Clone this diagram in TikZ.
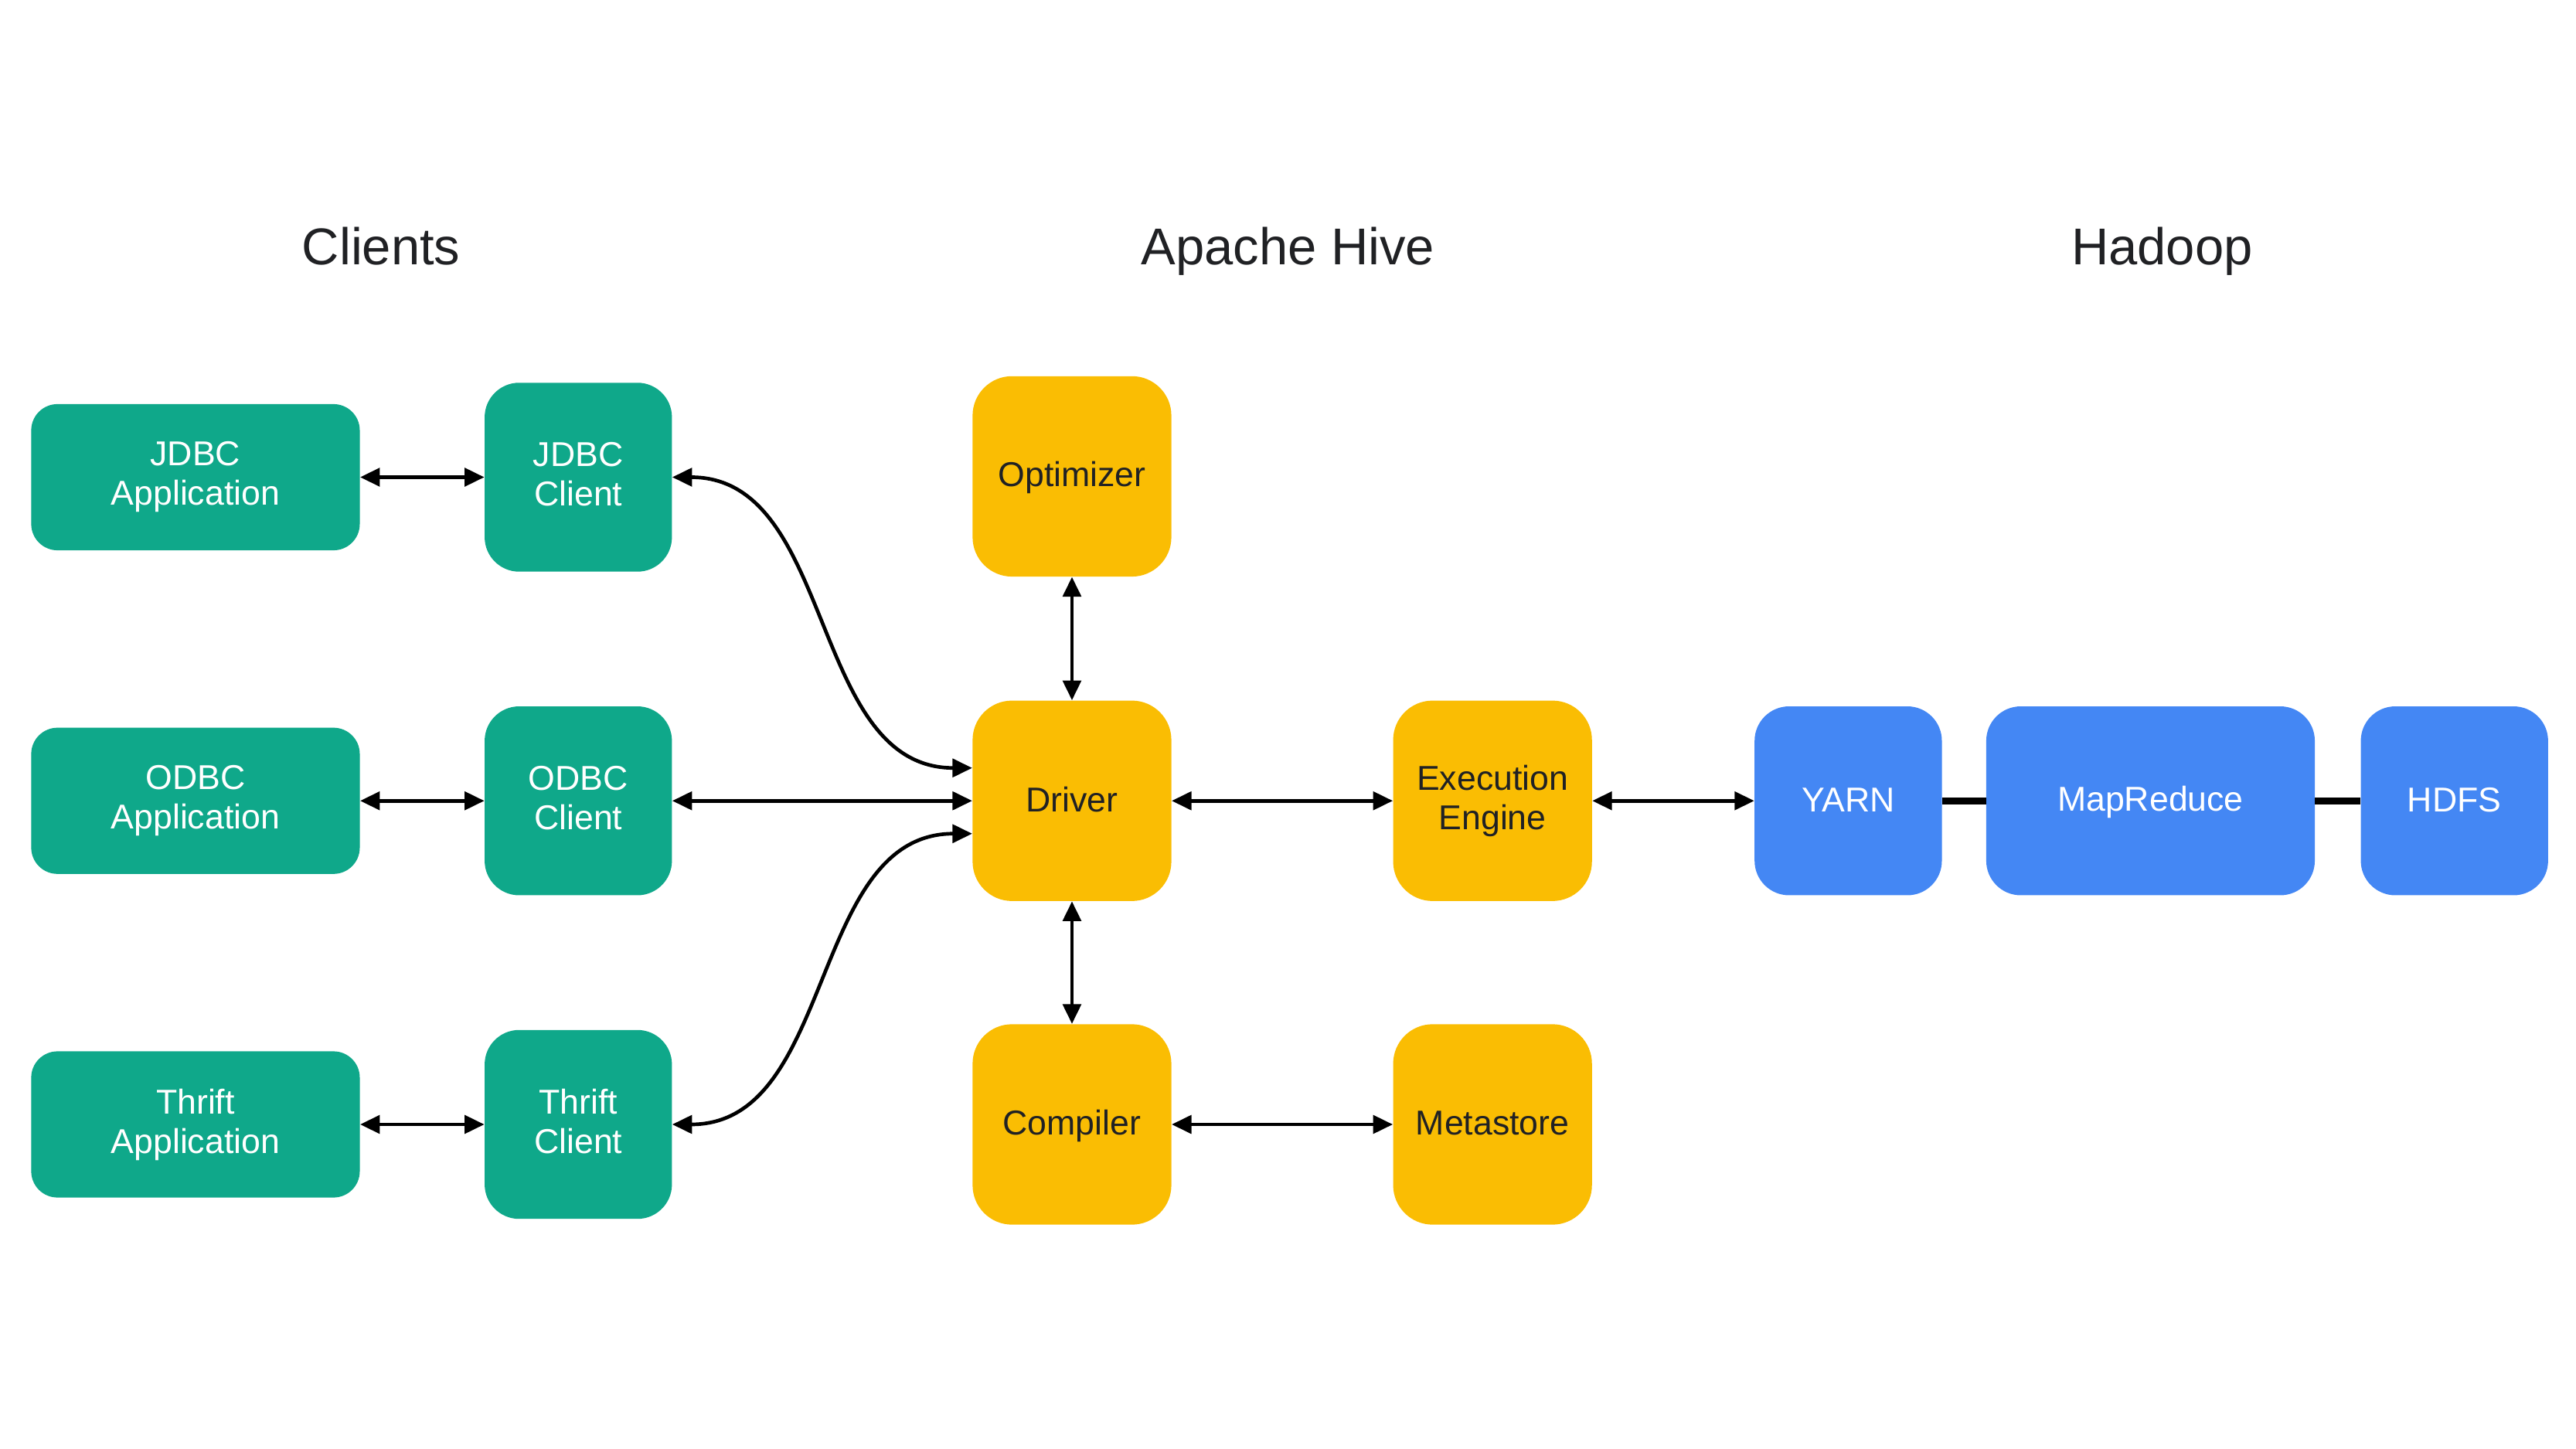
\documentclass[tikz,border=0pt]{standalone}
\usepackage{fontspec}
\setmainfont{Liberation Sans}
\usetikzlibrary{arrows.meta}
\definecolor{hivegreen}{HTML}{0FA88A}
\definecolor{hiveyellow}{HTML}{FABD03}
\definecolor{hiveblue}{HTML}{4487F4}
\definecolor{inkgray}{HTML}{202124}
\newcommand{\boxstrut}{\rule[-4pt]{0pt}{21pt}}
\tikzset{
  box/.style={fill=#1, inner sep=0pt, align=center, font=\fontsize{21}{24}\selectfont,
    execute at begin node=\boxstrut, execute at end node=\boxstrut},
  appbox/.style={box=hivegreen, text=white, minimum width=200pt, minimum height=89pt, rounded corners=16pt},
  clientbox/.style={box=hivegreen, text=white, minimum width=114pt, minimum height=115pt, rounded corners=21pt},
  hivebox/.style={box=hiveyellow, text=inkgray, minimum width=121pt, minimum height=122pt, rounded corners=24pt},
  hadoopbox/.style={box=hiveblue, text=white, minimum height=115pt, rounded corners=21pt},
  title/.style={anchor=base, text=inkgray, font=\fontsize{31.5}{36}\selectfont},
}
\begin{document}
\begin{tikzpicture}[x=1pt, y=-1pt, >={Triangle[length=12pt,width=11pt]}]
      \useasboundingbox (0,0) rectangle (1568,882);
      \node[title] (clients) at (232,161) {Clients};
      \node[title] (hive) at (784,161) {Apache Hive};
      \node[title] (hadoop) at (1316,161) {Hadoop};
      % clients
      \node[appbox] (japp) at (119,290.5) {JDBC\\Application};
      \node[appbox] (oapp) at (119,487.5) {ODBC\\Application};
      \node[appbox] (tapp) at (119,684.5) {Thrift\\Application};
      \node[clientbox] (jcl) at (352,290.5) {JDBC\\Client};
      \node[clientbox] (ocl) at (352,487.5) {ODBC\\Client};
      \node[clientbox] (tcl) at (352,684.5) {Thrift\\Client};
      % hive
      \node[hivebox] (opt) at (652.5,290) {Optimizer};
      \node[hivebox] (drv) at (652.5,487.5) {Driver};
      \node[hivebox] (comp) at (652.5,684.5) {Compiler};
      \node[hivebox] (exe) at (908.5,487.5) {Execution\\Engine};
      \node[hivebox] (meta) at (908.5,684.5) {Metastore};
      % hadoop
      \node[hadoopbox, minimum width=114pt] (yarn) at (1125,487.5) {YARN};
      \node[hadoopbox, minimum width=200pt] (mr) at (1309,487.5) {MapReduce};
      \node[hadoopbox, minimum width=114pt] (hdfs) at (1494,487.5) {HDFS};
      \begin{scope}[<->, line width=2.2pt]
        \draw (japp) to (jcl);
        \draw (oapp) to (ocl);
        \draw (tapp) to (tcl);
        \draw (jcl.east) to[out=0, in=180] ([yshift=20pt]drv.west);
        \draw (ocl) to (drv);
        \draw (tcl.east) to[out=0, in=180] ([yshift=-20pt]drv.west);
        \draw (opt) to (drv);
        \draw (drv) to (comp);
        \draw (comp) to (meta);
        \draw (drv) to (exe);
        \draw (exe) to (yarn);
      \end{scope}
      \begin{scope}[-, line width=4pt]
        \draw (yarn) to (mr);
        \draw (mr) to (hdfs);
      \end{scope}
    \end{tikzpicture}
\end{document}
